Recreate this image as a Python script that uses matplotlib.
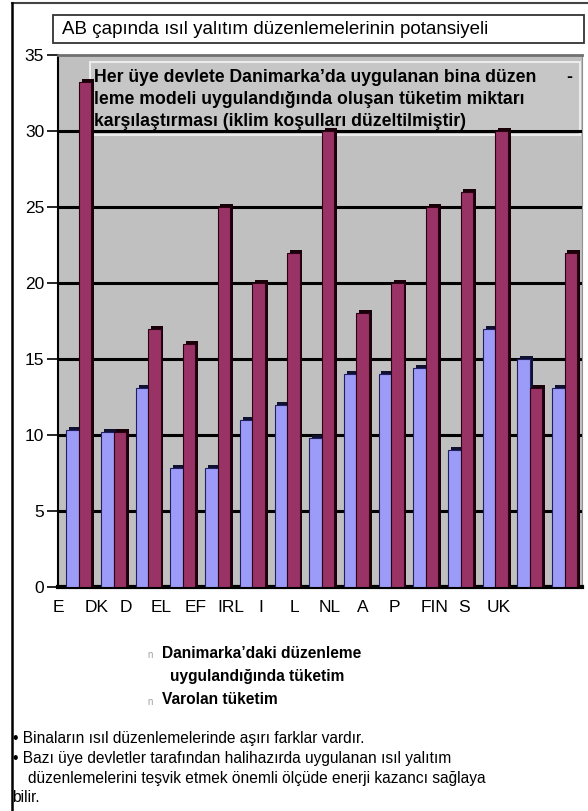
import numpy as np
import matplotlib.pyplot as plt
from matplotlib.patches import Rectangle

plt.rcParams['font.family'] = ['Liberation Sans', 'DejaVu Sans']

# values (15 member states)
danish_rule = [10.3, 10.2, 13.1, 7.8, 7.8, 11.0, 12.0, 9.8, 14.0, 14.0, 14.4, 9.0, 17.0, 15.0, 13.1]
existing = [33.2, 10.2, 17.0, 16.0, 25.0, 20.0, 22.0, 30.0, 18.0, 20.0, 25.0, 26.0, 30.0, 13.1, 22.0]
country_labels = ['E', 'DK', 'D', 'EL', 'EF', 'IRL', 'I', 'L', 'NL', 'A', 'P', 'FIN', 'S', 'UK']
y_ticks = [0, 5, 10, 15, 20, 25, 30, 35]

title = 'AB çapında ısıl yalıtım düzenlemelerinin potansiyeli'
inner_lines = ['Her üye devlete Danimarka’da uygulanan bina düzen',
               'leme modeli uygulandığında oluşan tüketim miktarı',
               'karşılaştırması (iklim koşulları düzeltilmiştir)']
legend_1 = ['Danimarka’daki düzenleme', 'uygulandığında tüketim']
legend_2 = 'Varolan tüketim'
notes = ['• Binaların ısıl düzenlemelerinde aşırı farklar vardır.',
         '• Bazı üye devletler tarafından halihazırda uygulanan ısıl yalıtım',
         'düzenlemelerini teşvik etmek önemli ölçüde enerji kazancı sağlaya',
         'bilir.']

W, H = 588, 811
BLUE = '#9c9cf8'
RED = '#993366'
GRAY = '#c0c0c0'


def fx(px):
    return px / W


def fy(py):
    return 1 - py / H


fig = plt.figure(figsize=(W / 100, H / 100), dpi=100)
ax = fig.add_axes([fx(58), fy(587), fx(582) - fx(58), fy(55) - fy(587)])
ax.set_facecolor(GRAY)

n = len(danish_rule)
idx = np.arange(n)
w = 0.36

# dark depth behind each bar for the old 3d look
ax.bar(idx - w / 2 + 0.08, np.array(danish_rule) + 0.2, width=w, color='#101030', zorder=3)
ax.bar(idx + w / 2 + 0.08, np.array(existing) + 0.2, width=w, color='#1a0008', zorder=3)
ax.bar(idx - w / 2, danish_rule, width=w, color=BLUE, edgecolor='#202060', lw=0.8, zorder=4)
ax.bar(idx + w / 2, existing, width=w, color=RED, edgecolor='#2a0012', lw=0.8, zorder=4)

for v in y_ticks[1:-1]:
    ax.axhline(v, color='black', lw=2.2, zorder=2)

ax.set_xlim(-0.5, n - 0.5)
ax.set_ylim(0, 35)
ax.set_yticks(y_ticks)
ax.set_yticklabels([str(v) for v in y_ticks], fontsize=12.5)
ax.tick_params(axis='y', length=8, width=1.2, pad=2)

label_pos = [-0.6, 0.5, 1.35, 2.38, 3.36, 4.37, 5.25, 6.2, 7.23, 8.17, 9.09, 10.24, 11.1, 12.1]
ax.set_xticks(label_pos)
ax.set_xticklabels(country_labels, fontsize=12.5)
ax.tick_params(axis='x', length=0, pad=9)

ax.spines['left'].set_linewidth(1.5)
ax.spines['bottom'].set_linewidth(3)
ax.spines['top'].set_color('#707070')
ax.spines['top'].set_linewidth(2)
ax.spines['right'].set_color('#909090')

# inner explanatory box inside the plot, under the grid lines
ax.add_patch(Rectangle((fx(90), fy(135)), fx(580) - fx(90), fy(62) - fy(135),
                       transform=fig.transFigure, facecolor='#c6c6c6',
                       edgecolor='#ececec', lw=1.5, zorder=1.5, clip_on=False))
for i, line in enumerate(inner_lines):
    ax.text(fx(94), fy(78 + 22 * i), line, transform=fig.transFigure, fontsize=12.7,
            fontweight='bold', va='center', ha='left', zorder=6)
ax.text(fx(566), fy(78), '-', transform=fig.transFigure, fontsize=12.7,
        fontweight='bold', va='center', ha='left', zorder=6)

# title box
fig.patches.append(Rectangle((fx(53), fy(43)), fx(584) - fx(53), fy(15) - fy(43),
                             transform=fig.transFigure, facecolor='white',
                             edgecolor='#333333', lw=1.3))
fig.text(fx(62), fy(29), title, fontsize=13.5, va='center', ha='left')

# outer frame lines
fig.add_artist(plt.Line2D([fx(12), fx(588)], [fy(3), fy(3)], color='#444444', lw=1.5))
fig.add_artist(plt.Line2D([fx(12), fx(12)], [fy(3), fy(811)], color='black', lw=1.8))

# legend (markers lost their symbol font, shown as small grey 'n')
fig.text(fx(147), fy(655), 'n', fontsize=7, color='#a0a0a0', va='center')
fig.text(fx(162), fy(653), legend_1[0], fontsize=11.2, fontweight='bold', va='center')
fig.text(fx(170), fy(677), legend_1[1], fontsize=11.2, fontweight='bold', va='center')
fig.text(fx(147), fy(702), 'n', fontsize=7, color='#a0a0a0', va='center')
fig.text(fx(162), fy(700), legend_2, fontsize=11.2, fontweight='bold', va='center')

note_x = [13, 13, 28, 12]
for i, line in enumerate(notes):
    fig.text(fx(note_x[i]), fy(738 + 20 * i), line, fontsize=11.2, va='center', ha='left')

fig.savefig('out.png', dpi=100)
